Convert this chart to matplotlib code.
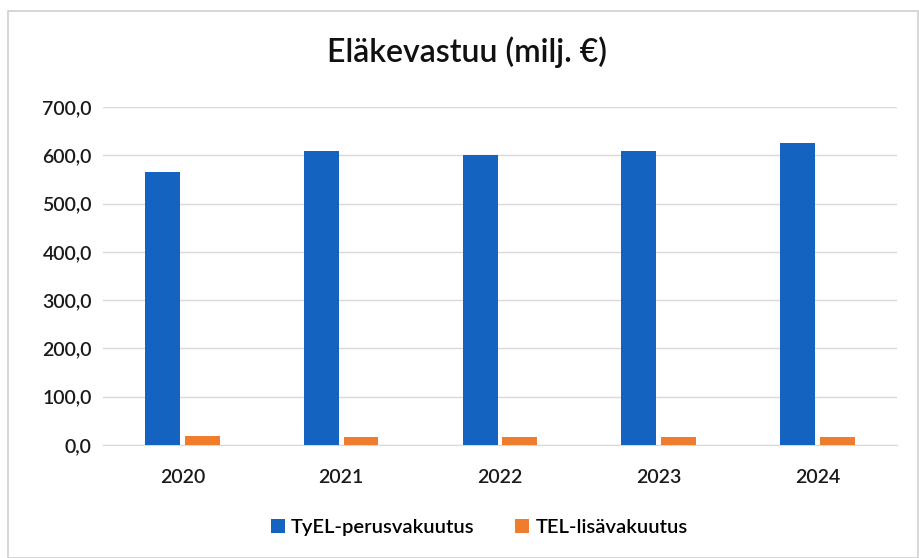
import matplotlib
matplotlib.use("Agg")
import matplotlib.pyplot as plt
import numpy as np
from matplotlib.patches import Rectangle

years = ["2020", "2021", "2022", "2023", "2024"]
tyel = [566, 608, 600, 609, 626]
tel = [18, 17, 16, 17, 17]
yticks = [0, 100, 200, 300, 400, 500, 600, 700]
ytick_labels = ["0,0", "100,0", "200,0", "300,0", "400,0", "500,0", "600,0", "700,0"]

plt.rcParams['font.family'] = ['Lato', 'DejaVu Sans']

fig = plt.figure(figsize=(9.19, 5.58), dpi=100)
ax = fig.add_axes([0.112, 0.2025, 0.864, 0.6057])

x = np.arange(len(years))
w = 0.22
gap = 0.03
ax.bar(x - (w + gap) / 2, tyel, width=w, color="#1463C0", label="TyEL-perusvakuutus", zorder=3)
ax.bar(x + (w + gap) / 2, tel, width=w, color="#F07D2E", label="TEL-lisävakuutus", zorder=3)

ax.set_xlim(-0.5, len(years) - 0.5)
ax.set_ylim(0, 700)
ax.set_yticks(yticks)
ax.set_yticklabels(ytick_labels, fontsize=14, color="#1a1a1a", fontweight="semibold")
ax.set_xticks(x)
ax.set_xticklabels(years, fontsize=14, color="#1a1a1a", fontweight="semibold")
ax.tick_params(axis="both", length=0)
ax.tick_params(axis="x", pad=17)
ax.tick_params(axis="y", pad=8)
ax.grid(axis="y", color="#d9d9d9", linewidth=1, zorder=0)
for s in ["top", "right", "left"]:
    ax.spines[s].set_visible(False)
ax.spines["bottom"].set_color("#d9d9d9")

fig.suptitle("Eläkevastuu (milj. €)", x=0.508, y=0.935, fontsize=23, color="#111111",
             fontweight="semibold")

ax.legend(loc="upper center", bbox_to_anchor=(0.474, -0.165), ncol=2, frameon=False,
          prop={"size": 14.5, "weight": "semibold"}, handlelength=0.7, handleheight=0.7,
          columnspacing=2.0, handletextpad=0.3)

fig.patches.append(Rectangle((0.009, 0.0), 0.99, 0.98, transform=fig.transFigure,
                             fill=False, edgecolor="#d0d0d0", linewidth=1.2))

fig.savefig("out.png", dpi=100, facecolor="white")
